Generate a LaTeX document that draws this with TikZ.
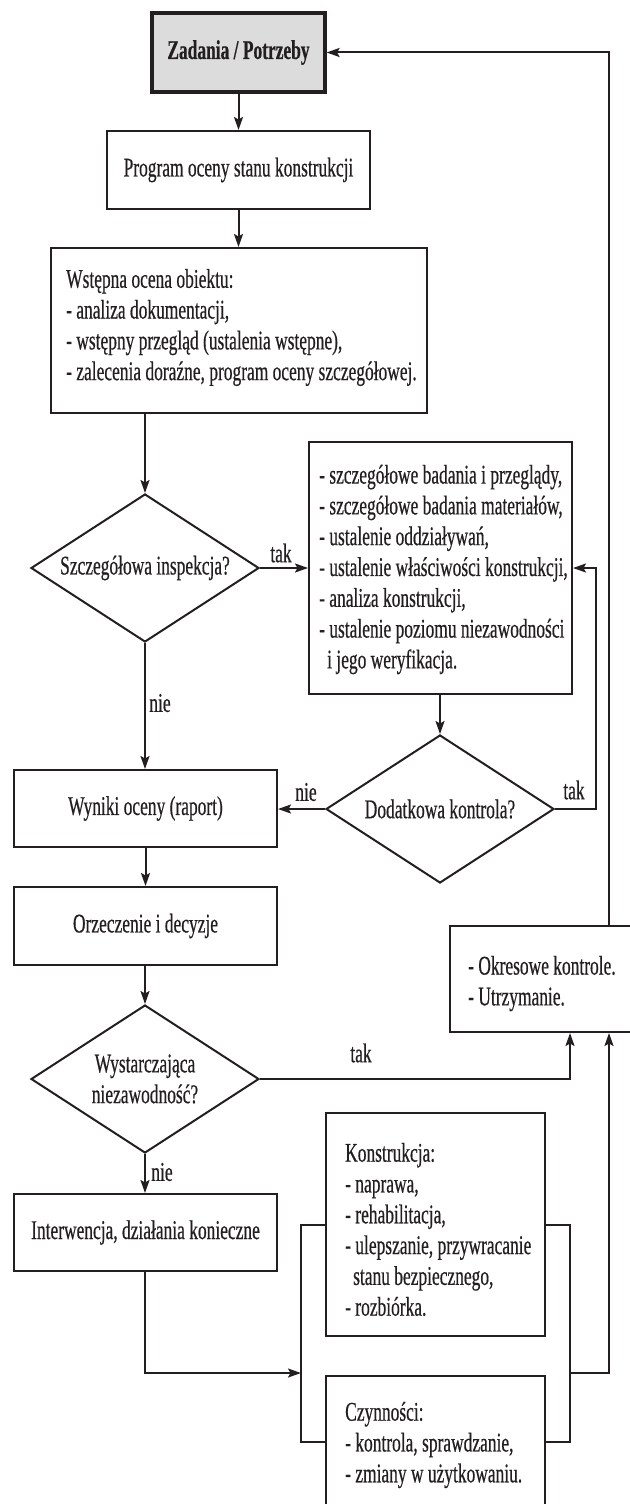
\documentclass[tikz,border=0pt]{standalone}
\usepackage{fontspec}
\setmainfont{Liberation Serif}[FakeStretch=0.645,FakeBold=0.5]
\usetikzlibrary{arrows.meta,shapes.geometric}
\definecolor{ink}{RGB}{35,31,32}
\definecolor{zadfill}{RGB}{220,220,220}
\tikzset{
  every node/.style={font=\fontsize{27}{30.8}\selectfont, text=ink},
  box/.style={draw=ink, line width=2pt, rectangle, inner sep=0pt},
  dia/.style={draw=ink, line width=2pt, diamond, inner sep=0pt, aspect=1.54,
              minimum width=228pt, minimum height=148pt, align=center},
  txt/.style={align=left, inner sep=0pt, anchor=west},
  lbl/.style={inner sep=0pt},
  conn/.style={draw=ink, line width=2pt},
  arr/.style={conn, -{Stealth[length=13pt,width=9pt,inset=2.5pt]}},
}
\begin{document}
\begin{tikzpicture}[x=1pt,y=-1pt]
\useasboundingbox (0,0) rectangle (629,1504);

% boxes
\node[box, line width=3.2pt, fill=zadfill, minimum width=173pt, minimum height=79pt,
      font=\fontsize{27}{30.8}\selectfont\bfseries] (zad) at (238.5,52.5) {Zadania / Potrzeby};
\node[box, minimum width=263pt, minimum height=78pt] (prog) at (238.5,170) {Program oceny stanu konstrukcji};
\node[box, minimum width=376pt, minimum height=165pt] (wst) at (239,330.5) {};
\node[txt] (wstT) at (66,327.5) {Wstępna ocena obiektu:\\- analiza dokumentacji,\\- wstępny przegląd (ustalenia wstępne),\\- zalecenia doraźne, program oceny szczegółowej.};
\node[dia] (d1) at (145,568) {Szczegółowa inspekcja?};
\node[box, minimum width=263pt, minimum height=252pt] (szc) at (440.5,568) {};
\node[txt] (szcT) at (319,569.5) {- szczegółowe badania i przeglądy,\\- szczegółowe badania materiałów,\\- ustalenie oddziaływań,\\- ustalenie właściwości konstrukcji,\\- analiza konstrukcji,\\- ustalenie poziomu niezawodności\\\hspace*{8pt}i jego weryfikacja.};
\node[dia] (d2) at (440,809) {Dodatkowa kontrola?};
\node[box, minimum width=263pt, minimum height=77pt] (wyn) at (145.5,808.5) {Wyniki oceny (raport)};
\node[box, minimum width=263pt, minimum height=78pt] (orz) at (145.5,926) {Orzeczenie i decyzje};
\node[dia] (d3) at (145,1079) {Wystarczająca\\niezawodność?};
\node[box, minimum width=190pt, minimum height=106pt] (okr) at (545,979) {};
\node[txt] (okrT) at (468,983.5) {- Okresowe kontrole.\\- Utrzymanie.};
\node[box, minimum width=263pt, minimum height=77pt] (int) at (145.5,1232.5) {Interwencja, działania konieczne};
\node[box, minimum width=219pt, minimum height=223pt] (kon) at (435.5,1224.5) {};
\node[txt] (konT) at (345,1229.5) {Konstrukcja:\\- naprawa,\\- rehabilitacja,\\- ulepszanie, przywracanie\\\hspace*{8pt}stanu bezpiecznego,\\- rozbiórka.};
\node[box, minimum width=219pt, minimum height=132pt] (czy) at (435.5,1442) {};
\node[txt] (czyT) at (345,1445) {Czynności:\\- kontrola, sprawdzanie,\\- zmiany w użytkowaniu.};

% helper coordinates
\coordinate (brL) at (301,1373);
\coordinate (brR) at (570,1373);
\coordinate (fb) at (609,52.5);
\coordinate (tk) at (596,809);

% connectors
\draw[arr] (zad) -- (prog);
\draw[arr] (prog.south) -- (prog.south |- wst.north);
\draw[arr] (wst.south -| d1.north) -- (d1.north);
\draw[arr] (d1.east) -- (d1.east -| szc.west);
\draw[arr] (szc.south -| d2.north) -- (d2.north);
\draw[arr] (d2.east) -- (tk) |- (szc.east);
\draw[arr] (d2.west) -- (d2.west -| wyn.east);
\draw[arr] (d1.south) -- (d1.south |- wyn.north);
\draw[arr] (wyn) -- (orz);
\draw[arr] (orz.south -| d3.north) -- (d3.north);
\draw[arr] (d3.east) -| (okr.south -| brR);
\draw[arr] (d3.south) -- (d3.south |- int.north);
\draw[arr] (int.south -| d3.south) |- (brL);
\draw[conn] (kon.west) -| (brL) |- (czy.west);
\draw[conn] (kon.east) -| (brR) |- (czy.east);
\draw[arr] (brR) -| (okr.south -| fb);
\draw[arr] (okr.north -| fb) -- (fb) -- (zad.east);

% labels
\node[lbl] (l1) at (281,553) {tak};
\node[lbl] (l2) at (160,703) {nie};
\node[lbl] (l3) at (306,792) {nie};
\node[lbl] (l4) at (574,790) {tak};
\node[lbl] (l5) at (361,1053) {tak};
\node[lbl] (l6) at (162,1172) {nie};
\end{tikzpicture}
\end{document}
